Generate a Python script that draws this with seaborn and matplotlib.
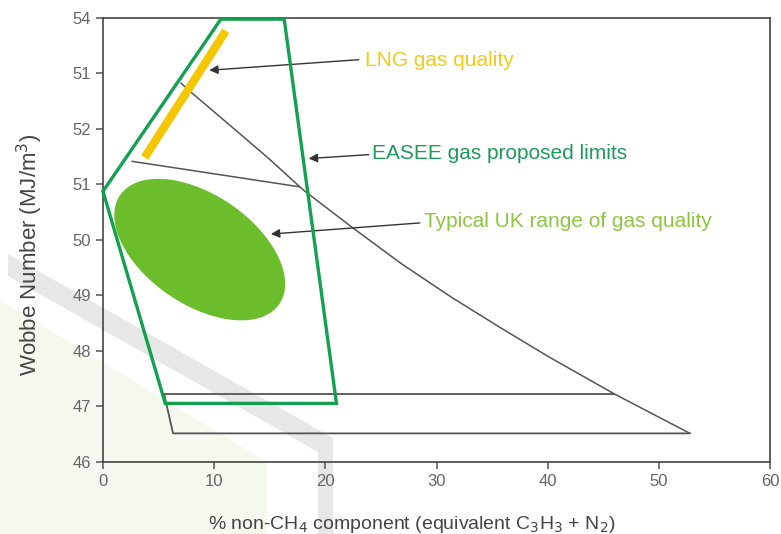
import numpy as np
import matplotlib
matplotlib.use("Agg")
import matplotlib.pyplot as plt
import seaborn as sns
from matplotlib.patches import Polygon

# --- data --------------------------------------------------------------------
easee_x = [0.0, 10.6, 16.3, 21.0, 5.6, 0.0]
easee_y = [50.87, 53.97, 53.97, 47.05, 47.05, 50.87]

lng_x = [3.75, 11.05]
lng_y = [51.48, 53.76]

curve_x = [7.0, 7.77, 11.94, 14.91, 18.04, 22.35, 26.81, 31.28, 35.7, 40.0, 46.0, 52.8]
curve_y = [52.82, 52.68, 51.97, 51.46, 50.89, 50.23, 49.57, 48.97, 48.42, 47.9, 47.22, 46.51]

chord_x = [2.6, 17.7]
chord_y = [51.41, 50.95]

upper_x = [5.6, 46.0]
upper_y = [47.22, 47.22]

lower_x = [5.5, 6.3, 52.8]
lower_y = [47.22, 46.51, 46.51]

# typical UK range (ellipse): centre, semi-axes in x units, tilt in degrees
uk_center = (8.7, 49.82)
uk_semi = (8.66, 4.91)
uk_tilt = -34

x_ticks = [0, 10, 20, 30, 40, 50, 60]
y_ticks = [46, 47, 48, 49, 50, 51, 52, 53, 54]
y_tick_labels = ["46", "47", "48", "49", "50", "51", "52", "51", "54"]

labels = ["LNG gas quality", "EASEE gas proposed limits", "Typical UK range of gas quality"]
label_pos = [(23.6, 53.22), (24.2, 51.55), (28.9, 50.33)]
arrow_tail = [(23.0, 53.24), (23.9, 51.53), (28.5, 50.3)]
arrow_tip = [(9.55, 53.05), (18.5, 51.46), (15.1, 50.1)]
label_colors = ["#f2cb17", "#1e9a5a", "#8cc63f"]

GREEN = "#13a050"
ELLIPSE = "#6bbd2b"
YELLOW = "#f6c700"
LINE = "#555555"

sns.set_style("ticks")
plt.rcParams["font.family"] = ["Liberation Sans", "DejaVu Sans"]

fig = plt.figure(figsize=(7.81, 5.34), dpi=100)
W, H = 781, 534

def fig_poly(pts, color):
    # decorative watermark shapes, given in figure pixels
    xy = [(px / W, 1 - py / H) for px, py in pts]
    fig.patches.append(Polygon(xy, closed=True, transform=fig.transFigure,
                               facecolor=color, edgecolor="none", zorder=0))

fig_poly([(0, 300), (267, 462), (267, 534), (0, 534)], "#f5f8ee")
fig_poly([(8, 254), (333, 438), (333, 534), (318, 534), (318, 452), (8, 276)], "#e7e7e7")

ax = fig.add_axes([103 / W, 1 - 461.7 / H, (770 - 103) / W, (461.7 - 17.5) / H])
ax.set_facecolor("none")
ax.set_zorder(1)

# black reference lines
sns.lineplot(x=curve_x, y=curve_y, ax=ax, color=LINE, lw=1.1, sort=False)
sns.lineplot(x=chord_x, y=chord_y, ax=ax, color=LINE, lw=1.1, sort=False)
sns.lineplot(x=upper_x, y=upper_y, ax=ax, color=LINE, lw=1.3, sort=False)
sns.lineplot(x=lower_x, y=lower_y, ax=ax, color=LINE, lw=1.3, sort=False)

# UK range ellipse (kept round on screen, so y is scaled by the axes aspect)
aspect = 55.6 / 11.2
t = np.linspace(0, 2 * np.pi, 200)
th = np.radians(uk_tilt)
ex = uk_semi[0] * np.cos(t) * np.cos(th) - uk_semi[1] * np.sin(t) * np.sin(th)
ey = uk_semi[0] * np.cos(t) * np.sin(th) + uk_semi[1] * np.sin(t) * np.cos(th)
ax.fill(uk_center[0] + ex, uk_center[1] + ey / aspect, color=ELLIPSE, lw=0, zorder=2)

# EASEE limits and LNG bar
ax.plot(easee_x, easee_y, color=GREEN, lw=2.4, zorder=4, clip_on=False,
        solid_joinstyle="miter")
ax.plot(lng_x, lng_y, color=YELLOW, lw=6, zorder=3, solid_capstyle="butt")

for txt, pos, tail, tip, c in zip(labels, label_pos, arrow_tail, arrow_tip, label_colors):
    ax.annotate("", xy=tip, xytext=tail,
                arrowprops=dict(arrowstyle="-|>", color="#333333", lw=1.0,
                                mutation_scale=13, shrinkA=0, shrinkB=0))
    ax.text(pos[0], pos[1], txt, color=c, fontsize=15, ha="left", va="center")

ax.set_xlim(0, 60)
ax.set_ylim(46, 54)
ax.set_xticks(x_ticks)
ax.set_yticks(y_ticks)
ax.set_yticklabels(y_tick_labels)
ax.tick_params(axis="both", colors="#555555", labelcolor="#666666",
               labelsize=12, length=5, width=1.1, direction="out")
for s in ax.spines.values():
    s.set_color("#444444")
    s.set_linewidth(1.2)
    s.set_visible(True)

ax.set_xlabel(r"% non-CH$_4$ component (equivalent C$_3$H$_3$ + N$_2$)",
              fontsize=14, color="#444444")
ax.set_ylabel(r"Wobbe Number (MJ/m$^3$)", fontsize=16, color="#444444")
ax.xaxis.set_label_coords(0.463, -0.118)
ax.yaxis.set_label_coords(-0.087, 0.465)

fig.savefig("out.png", dpi=100)
